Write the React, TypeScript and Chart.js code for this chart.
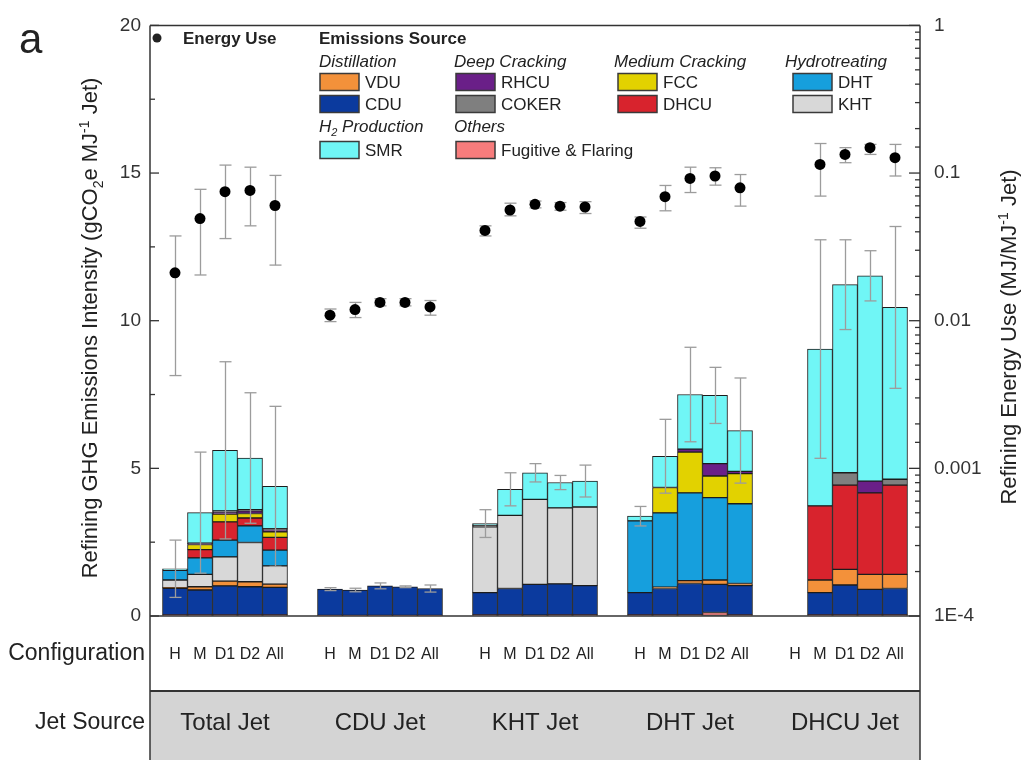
import React, { useEffect, useRef } from 'react';
import { Chart, registerables } from 'chart.js';

Chart.register(...registerables);

// ---------------- data ----------------
const configurations = ['H', 'M', 'D1', 'D2', 'All'];
const jetSources = ['Total Jet', 'CDU Jet', 'KHT Jet', 'DHT Jet', 'DHCU Jet'];

// emissions by source (gCO2e / MJ jet); 25 bars = 5 jet sources x 5 configurations
const fugitiveFlaring = [0.04, 0.04, 0.04, 0.04, 0.04, 0.02, 0.02, 0.02, 0.02, 0.02, 0.04, 0.04, 0.03, 0.04, 0.04, 0.04, 0.04, 0.04, 0.12, 0.04, null, 0.04, 0.04, 0.04, 0.04];
const cdu = [0.9, 0.84, 0.98, 0.95, 0.93, 0.89, 0.86, 1.0, 0.97, 0.91, 0.75, 0.89, 1.04, 1.05, 0.99, 0.75, 0.89, 1.06, 0.95, 0.99, null, 0.75, 1.01, 0.86, 0.89];
const vdu = [0.02, 0.11, 0.16, 0.17, 0.11, 0, 0, 0, 0, 0, 0, 0, 0, 0, 0, 0, 0.05, 0.1, 0.15, 0.07, null, 0.43, 0.53, 0.51, 0.48];
const kht = [0.26, 0.42, 0.82, 1.33, 0.62, 0, 0, 0, 0, 0, 2.23, 2.48, 2.88, 2.57, 2.66, 0, 0, 0, 0, 0, null, 0, 0, 0, 0];
const dht = [0.33, 0.56, 0.57, 0.56, 0.53, 0, 0, 0, 0, 0, 0, 0, 0, 0, 0, 2.43, 2.51, 2.97, 2.79, 2.7, null, 0, 0, 0, 0];
const dhcu = [0, 0.28, 0.62, 0.27, 0.43, 0, 0, 0, 0, 0, 0, 0, 0, 0, 0, 0, 0, 0, 0, 0, null, 2.51, 2.85, 2.76, 3.02];
const fcc = [0, 0.17, 0.26, 0.15, 0.19, 0, 0, 0, 0, 0, 0, 0, 0, 0, 0, 0, 0.86, 1.38, 0.73, 1.02, null, 0, 0, 0, 0];
const rhcu = [0, 0.03, 0.07, 0.09, 0.07, 0, 0, 0, 0, 0, 0, 0, 0, 0, 0, 0, 0, 0.1, 0.42, 0.08, null, 0, 0, 0.4, 0];
const coker = [0, 0.02, 0.04, 0.04, 0.04, 0, 0, 0, 0, 0, 0.05, 0, 0, 0, 0, 0, 0, 0, 0, 0, null, 0, 0.42, 0, 0.2];
const smr = [0.05, 1.03, 2.05, 1.75, 1.43, 0, 0, 0, 0, 0, 0.06, 0.88, 0.9, 0.86, 0.88, 0.16, 1.06, 1.85, 2.31, 1.38, null, 5.31, 6.37, 6.95, 5.82];
const emissionsError = [0.97, 2.05, 3.0, 2.21, 2.71, 0.05, 0.06, 0.1, 0.03, 0.12, 0.47, 0.56, 0.31, 0.24, 0.54, 0.33, 1.25, 1.6, 0.95, 1.78, null, 3.7, 1.52, 0.85, 2.74];

// refining energy use (MJ / MJ jet), right log axis
const energyUse = [0.0211, 0.0492, 0.0748, 0.0762, 0.0603, 0.0109, 0.0119, 0.0133, 0.0133, 0.0124, 0.0409, 0.0562, 0.0614, 0.0597, 0.0589, 0.047, 0.0692, 0.092, 0.0955, 0.0794, null, 0.1143, 0.1337, 0.1486, 0.1271];
const energyLow = [0.00425, 0.0204, 0.036, 0.0439, 0.0238, 0.00986, 0.0105, 0.0126, 0.0126, 0.0109, 0.0375, 0.0513, 0.0581, 0.056, 0.0532, 0.0423, 0.0555, 0.0738, 0.0828, 0.0597, null, 0.0698, 0.1175, 0.1337, 0.0955];
const energyHigh = [0.0375, 0.0776, 0.1132, 0.1096, 0.0964, 0.012, 0.0133, 0.0141, 0.0141, 0.0137, 0.0439, 0.0625, 0.0646, 0.0631, 0.064, 0.0504, 0.0824, 0.1096, 0.1086, 0.0977, null, 0.1585, 0.1486, 0.1563, 0.1563];

const sourceNames = ['Fugitive & Flaring', 'CDU', 'VDU', 'KHT', 'DHT', 'DHCU', 'FCC', 'RHCU', 'COKER', 'SMR'];
const sourceColors = ['#f77c7c', '#0b3a9e', '#f3913a', '#d8d8d8', '#169fdd', '#d8232d', '#e2d200', '#6a1f88', '#7f7f7f', '#70f6f6'];
const sourceValues = [fugitiveFlaring, cdu, vdu, kht, dht, dhcu, fcc, rhcu, coker, smr];

const legendGroupTitles = ['Distillation', 'Deep Cracking', 'Medium Cracking', 'Hydrotreating', 'H2 Production', 'Others'];
const legendGroupMembers = [['VDU', 'CDU'], ['RHCU', 'COKER'], ['FCC', 'DHCU'], ['DHT', 'KHT'], ['SMR'], ['Fugitive & Flaring']];

const rightTickValues = [1e-4, 1e-3, 1e-2, 0.1, 1];
const rightTickLabels = ['1E-4', '0.001', '0.01', '0.1', '1'];

// ---------------- layout helpers ----------------
const FONT = "'Liberation Sans', Arial, sans-serif";
const GROUP_STRIDE = 6.2;
const xPositions: number[] = [];
jetSources.forEach((_, g) => configurations.forEach((__, c) => xPositions.push(g * GROUP_STRIDE + c)));

type Seg = { t: string; s?: 'sub' | 'sup' };

function drawRich(ctx: CanvasRenderingContext2D, segs: Seg[], x: number, y: number, size: number, style: string, align: 'left' | 'center' | 'right') {
  const small = Math.round(size * 0.62);
  const fontFor = (seg: Seg) => `${style} ${seg.s ? small : size}px ${FONT}`;
  let w = 0;
  segs.forEach((seg) => { ctx.font = fontFor(seg); w += ctx.measureText(seg.t).width; });
  let cx = align === 'left' ? x : align === 'center' ? x - w / 2 : x - w;
  ctx.textAlign = 'left';
  ctx.textBaseline = 'alphabetic';
  segs.forEach((seg) => {
    ctx.font = fontFor(seg);
    const dy = seg.s === 'sub' ? size * 0.25 : seg.s === 'sup' ? -size * 0.38 : 0;
    ctx.fillText(seg.t, cx, y + dy);
    cx += ctx.measureText(seg.t).width;
  });
}

function line(ctx: CanvasRenderingContext2D, x1: number, y1: number, x2: number, y2: number) {
  ctx.beginPath();
  ctx.moveTo(x1, y1);
  ctx.lineTo(x2, y2);
  ctx.stroke();
}

const errorBarPlugin = {
  id: 'errorBars',
  beforeDatasetDraw(chart: any, args: any) {
    if (args.index !== 0) return;
    const ctx: CanvasRenderingContext2D = chart.ctx;
    const xs = chart.scales.x, ys = chart.scales.y, y2 = chart.scales.y2;
    ctx.save();
    ctx.strokeStyle = '#9c9c9c';
    ctx.lineWidth = 1.3;
    const cap = 6;
    xPositions.forEach((xv, i) => {
      const px = Math.round(xs.getPixelForValue(xv)) + 0.5;
      const err = emissionsError[i];
      if (err != null) {
        const total = sourceValues.reduce((s, arr) => s + ((arr[i] as number) || 0), 0);
        const t = ys.getPixelForValue(total + err);
        const b = ys.getPixelForValue(Math.max(0, total - err));
        line(ctx, px, t, px, b);
        line(ctx, px - cap, t, px + cap, t);
        line(ctx, px - cap, b, px + cap, b);
      }
      const lo = energyLow[i], hi = energyHigh[i];
      if (lo != null && hi != null) {
        const t = y2.getPixelForValue(hi);
        const b = y2.getPixelForValue(lo);
        line(ctx, px, t, px, b);
        line(ctx, px - cap, t, px + cap, t);
        line(ctx, px - cap, b, px + cap, b);
      }
    });
    ctx.restore();
  },
};

const decorPlugin = {
  id: 'decor',
  afterDraw(chart: any) {
    const ctx: CanvasRenderingContext2D = chart.ctx;
    const { left, right, top, bottom } = chart.chartArea;
    const H = chart.height;
    const xs = chart.scales.x, ys = chart.scales.y, y2 = chart.scales.y2;
    ctx.save();

    // lower panel
    const bandTop = 691;
    ctx.fillStyle = '#d4d4d4';
    ctx.fillRect(left, bandTop, right - left, H - bandTop);

    ctx.strokeStyle = '#333';
    ctx.lineWidth = 1.5;
    line(ctx, left, top, right, top);
    line(ctx, left, bottom, right, bottom);
    line(ctx, left, top, left, H);
    line(ctx, right, top, right, H);
    ctx.lineWidth = 2;
    line(ctx, left, bandTop, right, bandTop);

    // inward ticks
    ctx.lineWidth = 1.3;
    for (let v = 0; v <= 20.001; v += 2.5) {
      const py = ys.getPixelForValue(v);
      const len = Math.abs(v % 5) < 1e-6 ? 9 : 5;
      line(ctx, left, py, left + len, py);
    }
    y2.ticks.forEach((tk: any) => {
      const py = y2.getPixelForValue(tk.value);
      const lg = Math.log10(tk.value);
      const major = Math.abs(lg - Math.round(lg)) < 1e-6;
      line(ctx, right, py, right - (major ? 11 : 5), py);
    });

    // axis titles
    ctx.fillStyle = '#222';
    ctx.save();
    ctx.translate(89, 328);
    ctx.rotate(-Math.PI / 2);
    drawRich(ctx, [{ t: 'Refining GHG Emissions Intensity (gCO' }, { t: '2', s: 'sub' }, { t: 'e MJ' }, { t: '-1', s: 'sup' }, { t: ' Jet)' }], 0, 8, 22, '', 'center');
    ctx.restore();
    ctx.save();
    ctx.translate(1008, 337);
    ctx.rotate(-Math.PI / 2);
    drawRich(ctx, [{ t: 'Refining Energy Use (MJ/MJ' }, { t: '-1', s: 'sup' }, { t: ' Jet)' }], 0, 8, 22, '', 'center');
    ctx.restore();

    // panel letter
    ctx.font = `42px ${FONT}`;
    ctx.textAlign = 'left';
    ctx.textBaseline = 'alphabetic';
    ctx.fillText('a', 19, 53);

    // legend
    const LF = 17;
    ctx.beginPath();
    ctx.arc(157, 38, 4.5, 0, Math.PI * 2);
    ctx.fill();
    drawRich(ctx, [{ t: 'Energy Use' }], 183, 44, LF, 'bold', 'left');
    drawRich(ctx, [{ t: 'Emissions Source' }], 319, 44, LF, 'bold', 'left');
    const headerX = [319, 454, 614, 785, 319, 454];
    const swatchX = [320, 456, 618, 793, 320, 456];
    const headerY = [61, 61, 61, 61, 126, 126];
    const rowY = [[82, 104], [82, 104], [82, 104], [82, 104], [150], [150]];
    legendGroupTitles.forEach((title, gi) => {
      ctx.fillStyle = '#222';
      const segs: Seg[] = title === 'H2 Production' ? [{ t: 'H' }, { t: '2', s: 'sub' }, { t: ' Production' }] : [{ t: title }];
      drawRich(ctx, segs, headerX[gi], headerY[gi] + 6, LF, 'italic', 'left');
      legendGroupMembers[gi].forEach((name, mi) => {
        const di = sourceNames.indexOf(name);
        const ds = chart.data.datasets[di + 1];
        const cy = rowY[gi][mi];
        ctx.fillStyle = ds.backgroundColor;
        ctx.fillRect(swatchX[gi], cy - 8.5, 39, 17);
        ctx.strokeStyle = '#3a3a3a';
        ctx.lineWidth = 1.5;
        ctx.strokeRect(swatchX[gi], cy - 8.5, 39, 17);
        ctx.fillStyle = '#222';
        drawRich(ctx, [{ t: ds.label }], swatchX[gi] + 45, cy + 6, LF, '', 'left');
      });
    });

    // configuration labels
    ctx.fillStyle = '#222';
    ctx.textAlign = 'center';
    ctx.textBaseline = 'middle';
    ctx.font = `16px ${FONT}`;
    xPositions.forEach((xv, i) => {
      ctx.fillText(configurations[i % configurations.length], xs.getPixelForValue(xv), 655);
    });
    ctx.font = `24px ${FONT}`;
    jetSources.forEach((name, g) => {
      const cx = xs.getPixelForValue(g * GROUP_STRIDE + (configurations.length - 1) / 2);
      ctx.fillText(name, cx, 723);
    });
    ctx.textAlign = 'right';
    ctx.font = `23px ${FONT}`;
    ctx.fillText('Configuration', 145, 654);
    ctx.fillText('Jet Source', 145, 723);

    ctx.restore();
  },
};

export default function App() {
  const ref = useRef<HTMLCanvasElement>(null);

  useEffect(() => {
    const canvas = ref.current;
    if (!canvas) return;
    Chart.defaults.font.family = FONT;

    const barSets = sourceNames.map((name, si) => ({
      type: 'bar' as const,
      label: name,
      data: sourceValues[si].map((v, i) => ({ x: xPositions[i], y: v ? v : null })),
      backgroundColor: sourceColors[si],
      borderColor: '#1c1c1c',
      borderWidth: 1,
      borderSkipped: false,
      barPercentage: 1,
      categoryPercentage: 1,
      yAxisID: 'y',
      xAxisID: 'x',
    }));

    const energySet = {
      type: 'line' as const,
      label: 'Energy Use',
      data: energyUse.map((v, i) => ({ x: xPositions[i], y: v })),
      showLine: false,
      pointRadius: 5.5,
      pointBackgroundColor: '#000',
      pointBorderColor: '#000',
      pointBorderWidth: 0,
      yAxisID: 'y2',
      xAxisID: 'x',
    };

    const chart = new Chart(canvas, {
      type: 'bar',
      data: { datasets: [energySet as any, ...barSets] },
      options: {
        responsive: false,
        animation: false,
        layout: { padding: { left: 0, right: 0, top: 24, bottom: 144 } },
        plugins: { legend: { display: false }, tooltip: { enabled: false } },
        scales: {
          x: {
            type: 'linear',
            min: -1,
            max: 29.8,
            offset: false,
            stacked: true,
            display: false,
          },
          y: {
            type: 'linear',
            position: 'left',
            stacked: true,
            min: 0,
            max: 20,
            ticks: { stepSize: 5, color: '#333', font: { size: 19 }, padding: 9 },
            grid: { drawOnChartArea: false, drawTicks: false },
            border: { display: false },
            afterFit: (s: any) => { s.width = 150; },
          },
          y2: {
            type: 'logarithmic',
            position: 'right',
            min: 1e-4,
            max: 1,
            ticks: {
              autoSkip: false,
              color: '#333',
              font: { size: 19 },
              padding: 14,
              callback: (value: any) => {
                const v = Number(value);
                const k = rightTickValues.findIndex((t) => Math.abs(Math.log10(v) - Math.log10(t)) < 1e-6);
                return k >= 0 ? rightTickLabels[k] : '';
              },
            },
            grid: { drawOnChartArea: false, drawTicks: false },
            border: { display: false },
            afterFit: (s: any) => { s.width = 103; },
          },
        },
      } as any,
      plugins: [errorBarPlugin, decorPlugin],
    });

    return () => chart.destroy();
  }, []);

  return (
    <div style={{ position: 'fixed', left: 0, top: 0, width: 1023, height: 760, background: '#fff' }}>
      <canvas ref={ref} width={1023} height={760} style={{ display: 'block' }} />
    </div>
  );
}
